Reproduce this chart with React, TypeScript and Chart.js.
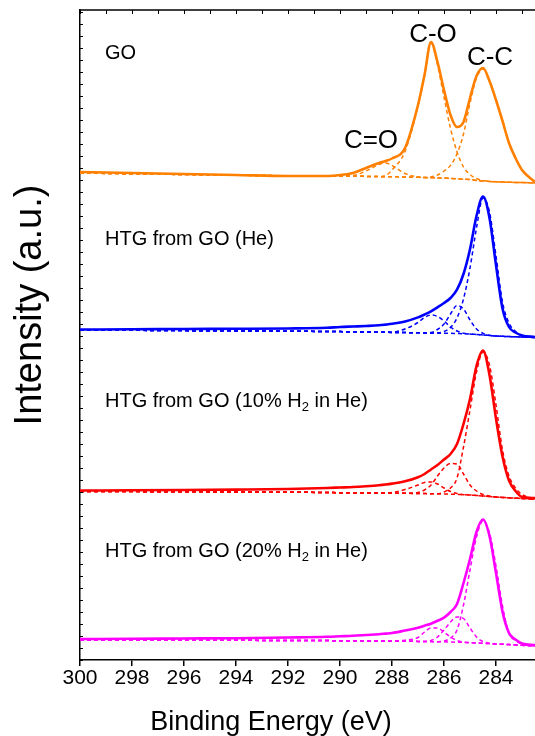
import { useEffect, useRef } from "react";
import { Chart, registerables } from "chart.js";

Chart.register(...registerables);

// Binding energy grid (eV)
const energy = [300, 298, 296, 294, 292, 290.5, 290, 289.5, 289, 288.5, 288.25, 288, 287.5, 287, 286.75, 286.5, 286.25, 286, 285.75, 285.5, 285.25, 285, 284.75, 284.5, 284.25, 284, 283.75, 283.5, 283.25, 283, 282.5];

// GO (offset spectra, arbitrary units)
const goEnvelope = [488, 487, 486, 485, 484, 484, 485, 487, 492, 497, 499, 501.5, 512, 555, 585, 618, 598, 570, 545, 533, 538, 562, 584, 592, 579, 560, 539, 517, 502, 490, 478];
const goBaseline = [487, 486.2, 485.5, 484.8, 484.2, 484, 484, 483.8, 483.6, 483.4, 483.3, 483.2, 483, 482.7, 482.5, 482.3, 482.1, 482, 481.6, 481.2, 480.8, 480.5, 479.5, 479, 478.6, 478.2, 478, 477.8, 477.6, 477.5, 477];
const goCdO = [487, 486.2, 485.5, 484.8, 484.2, 484, 484, 484.5, 489, 495.5, 497, 494.5, 486.5, 483, 482.5, 482.3, 482.1, 482, 481.6, 481.2, 480.8, 480.5, 479.5, 479, 478.6, 478.2, 478, 477.8, 477.6, 477.5, 477];
const goCO = [487, 486.2, 485.5, 484.8, 484.2, 484, 484, 483.8, 483.6, 483.4, 484.5, 490, 508.5, 554, 584, 617, 595, 563, 531.6, 508.2, 493, 485.5, 481.5, 479.5, 478.6, 478.2, 478, 477.8, 477.6, 477.5, 477];
const goCC = [487, 486.2, 485.5, 484.8, 484.2, 484, 484, 483.8, 483.6, 483.4, 483.3, 483.2, 483, 482.7, 482.5, 483, 485, 489, 494.6, 506.2, 526, 557, 582, 591, 578.5, 560, 539, 517, 502, 490, 477.5];

// HTG from GO (He)
const heEnvelope = [330.5, 330.7, 331, 331.2, 331.5, 332.2, 333, 333.5, 334, 334.7, 335.4, 336.2, 338.5, 342.6, 345.5, 348.7, 352.7, 357, 362, 370.3, 386, 410.7, 444, 463.5, 442, 395, 351.6, 333, 327.5, 324.5, 323];
const heBaseline = [330, 329.7, 329.4, 329.1, 328.8, 328.5, 328.4, 328.2, 328, 327.8, 327.7, 327.6, 327.4, 327.2, 327.1, 327, 326.9, 326.8, 326.7, 326.5, 326.3, 326, 325.5, 325, 324.5, 324, 323.7, 323.4, 323.2, 323, 322.5];
const heCompA = [330, 329.7, 329.4, 329.1, 328.8, 328.5, 328.4, 328.2, 328, 327.8, 327.7, 327.8, 331, 337.5, 342.5, 345, 343.5, 339, 333, 329, 326.8, 326, 325.5, 325, 324.5, 324, 323.7, 323.4, 323.2, 323, 322.5];
const heCompB = [330, 329.7, 329.4, 329.1, 328.8, 328.5, 328.4, 328.2, 328, 327.8, 327.7, 327.6, 327.4, 327.2, 327.1, 327.5, 330.5, 336, 346, 354.5, 351, 340, 331, 326.7, 324.7, 324, 323.7, 323.4, 323.2, 323, 322.5];
const heMain = [330, 329.7, 329.4, 329.1, 328.8, 328.5, 328.4, 328.2, 328, 327.8, 327.7, 327.6, 327.4, 327.2, 327.1, 327, 327.2, 328.5, 332.5, 342, 361, 392, 432, 462, 448, 404, 358, 337, 328.5, 324.5, 322.5];

// HTG from GO (10% H2 in He)
const h10Envelope = [169.5, 169.7, 170, 170.4, 171, 172, 172.5, 173, 173.8, 174.8, 175.5, 176.4, 178.7, 182.8, 186, 190.5, 195, 200.5, 206, 216, 236, 261, 294, 309.5, 285, 241.4, 203.5, 179.5, 169, 163, 162];
const h10Baseline = [168.5, 168.4, 168.2, 168, 167.8, 167.5, 167.3, 167.2, 167.1, 167, 166.9, 166.8, 166.7, 166.5, 166.4, 166.3, 166.2, 166, 165.8, 165.6, 165.3, 165, 164.5, 164, 163.5, 163, 162.6, 162.2, 161.8, 161.5, 160.7];
const h10CompA = [168.5, 168.4, 168.2, 168, 167.8, 167.5, 167.3, 167.2, 167.1, 167, 166.9, 167.5, 170.5, 175, 177.5, 178, 176, 172, 168.5, 166.5, 165.3, 165, 164.5, 164, 163.5, 163, 162.6, 162.2, 161.8, 161.5, 160.7];
const h10CompB = [168.5, 168.4, 168.2, 168, 167.8, 167.5, 167.3, 167.2, 167.1, 167, 166.9, 166.8, 166.7, 167.5, 170, 175, 184, 192, 196.5, 196, 186, 175, 169, 165.5, 164, 163, 162.6, 162.2, 161.8, 161.5, 160.7];
const h10Main = [168.5, 168.4, 168.2, 168, 167.8, 167.5, 167.3, 167.2, 167.1, 167, 166.9, 166.8, 166.7, 166.5, 166.4, 166.3, 166.2, 168, 172, 182, 213, 250, 288, 308, 295, 255, 210, 184, 172, 165.5, 161];

// HTG from GO (20% H2 in He)
const h20Envelope = [21, 21.2, 21.5, 21.8, 22.5, 23.2, 23.7, 24.2, 25, 25.8, 26.4, 27, 29.5, 32.3, 34.3, 36.3, 39.2, 42.3, 48, 56, 77, 101, 128, 140.5, 124, 87, 48.4, 27, 20.5, 16.6, 15];
const h20Baseline = [20, 19.9, 19.8, 19.7, 19.5, 19.4, 19.3, 19.2, 19.1, 19, 18.95, 18.9, 18.8, 18.6, 18.5, 18.4, 18.3, 18.2, 18, 17.8, 17.6, 17.3, 17, 16.7, 16.4, 16, 15.7, 15.4, 15, 14.7, 14];
const h20CompA = [20, 19.9, 19.8, 19.7, 19.5, 19.4, 19.3, 19.2, 19.1, 19, 18.95, 18.9, 19.8, 22.5, 28, 32, 32, 28, 23, 19.5, 18, 17.3, 17, 16.7, 16.4, 16, 15.7, 15.4, 15, 14.7, 14];
const h20CompB = [20, 19.9, 19.8, 19.7, 19.5, 19.4, 19.3, 19.2, 19.1, 19, 18.95, 18.9, 18.8, 18.6, 18.5, 19.5, 23, 30, 38, 43, 41.5, 32, 23, 18.5, 16.7, 16, 15.7, 15.4, 15, 14.7, 14];
const h20Main = [20, 19.9, 19.8, 19.7, 19.5, 19.4, 19.3, 19.2, 19.1, 19, 18.95, 18.9, 18.8, 18.6, 18.5, 18.4, 18.3, 19, 22, 30, 55, 90, 123, 139, 127, 94, 54, 26.5, 19.5, 16, 14];

const xTickValues = [300, 298, 296, 294, 292, 290, 288, 286, 284];
const topMinorTicks = [300, 299, 298, 297, 296, 295, 294, 293, 292, 291, 290, 289, 288, 287, 286, 285, 284, 283];

const ORANGE = "#FF8000";
const BLUE = "#0000FF";
const RED = "#FF0000";
const MAGENTA = "#FF00FF";
const FONT = "'Liberation Sans', Arial, Helvetica, sans-serif";

const spectra = [
  { color: ORANGE, envelope: goEnvelope, comps: [goBaseline, goCdO, goCO, goCC] },
  { color: BLUE, envelope: heEnvelope, comps: [heBaseline, heCompA, heCompB, heMain] },
  { color: RED, envelope: h10Envelope, comps: [h10Baseline, h10CompA, h10CompB, h10Main] },
  { color: MAGENTA, envelope: h20Envelope, comps: [h20Baseline, h20CompA, h20CompB, h20Main] },
];

const toPoints = (arr: number[]) => energy.map((e, i) => ({ x: e, y: arr[i] }));

const decor = {
  id: "decor",
  afterDraw(chart: any) {
    const { ctx, chartArea: a, scales } = chart;
    const xs = scales.x;
    const ys = scales.y;
    ctx.save();
    ctx.strokeStyle = "#000";
    // top border
    ctx.lineWidth = 1.5;
    ctx.beginPath();
    ctx.moveTo(a.left, a.top);
    ctx.lineTo(a.right, a.top);
    ctx.stroke();
    // top minor ticks
    ctx.lineWidth = 1;
    ctx.beginPath();
    for (const e of topMinorTicks) {
      const px = Math.round(xs.getPixelForValue(e)) + 0.5;
      ctx.moveTo(px, a.top);
      ctx.lineTo(px, a.top + 4);
    }
    // left minor ticks
    for (let v = 0; v <= 650; v += 12) {
      const py = Math.round(ys.getPixelForValue(v)) + 0.5;
      ctx.moveTo(a.left, py);
      ctx.lineTo(a.left + 3, py);
    }
    ctx.stroke();

    ctx.fillStyle = "#000";
    ctx.textBaseline = "alphabetic";
    // axis titles
    ctx.font = `27px ${FONT}`;
    ctx.textAlign = "center";
    ctx.fillText("Binding Energy (eV)", 271, 730);
    ctx.save();
    ctx.translate(41, 305);
    ctx.rotate(-Math.PI / 2);
    ctx.font = `38px ${FONT}`;
    ctx.fillText("Intensity (a.u.)", 0, 0);
    ctx.restore();

    // peak labels
    ctx.font = `26px ${FONT}`;
    ctx.fillText("C=O", 371, 148);
    ctx.fillText("C-O", 433, 42);
    ctx.fillText("C-C", 490, 65);

    // sample labels
    ctx.textAlign = "left";
    const label = (pre: string, sub: string, post: string, x: number, y: number) => {
      ctx.font = `20px ${FONT}`;
      ctx.fillText(pre, x, y);
      let cx = x + ctx.measureText(pre).width;
      if (sub) {
        ctx.font = `13px ${FONT}`;
        ctx.fillText(sub, cx, y + 4);
        cx += ctx.measureText(sub).width;
        ctx.font = `20px ${FONT}`;
        ctx.fillText(post, cx, y);
      }
    };
    label("GO", "", "", 105, 59);
    label("HTG from GO (He)", "", "", 105, 245);
    label("HTG from GO (10% H", "2", " in He)", 105, 407);
    label("HTG from GO (20% H", "2", " in He)", 105, 557);
    ctx.restore();
  },
};

export default function App() {
  const ref = useRef<HTMLCanvasElement | null>(null);
  useEffect(() => {
    if (!ref.current) return;
    const datasets: any[] = [];
    for (const s of spectra) {
      for (const c of s.comps) {
        datasets.push({
          data: toPoints(c),
          borderColor: s.color,
          borderWidth: 1.5,
          borderDash: [4, 3],
          pointRadius: 0,
          fill: false,
          cubicInterpolationMode: "monotone",
        });
      }
    }
    for (const s of spectra) {
      datasets.push({
        data: toPoints(s.envelope),
        borderColor: s.color,
        borderWidth: 2.6,
        pointRadius: 0,
        fill: false,
        cubicInterpolationMode: "monotone",
      });
    }
    const chart = new Chart(ref.current, {
      type: "line",
      data: { datasets },
      options: {
        responsive: false,
        maintainAspectRatio: false,
        devicePixelRatio: 1,
        animation: false,
        events: [],
        layout: { padding: { top: 10, right: 0, left: 0, bottom: 0 } },
        plugins: { legend: { display: false }, tooltip: { enabled: false }, title: { display: false } },
        scales: {
          x: {
            type: "linear",
            reverse: true,
            min: 282.5,
            max: 300,
            afterBuildTicks: (scale: any) => {
              scale.ticks = xTickValues.map((v) => ({ value: v }));
            },
            afterFit: (scale: any) => {
              scale.height = 76;
            },
            grid: { display: true, drawOnChartArea: false, drawTicks: true, tickLength: 6, tickColor: "#000", lineWidth: 1.5 },
            border: { display: true, color: "#000", width: 1.5 },
            ticks: {
              color: "#000",
              font: { family: FONT, size: 21 },
              padding: 0,
              maxRotation: 0,
              autoSkip: false,
              callback: (v: any) => String(v),
            },
          },
          y: {
            type: "linear",
            min: 0,
            max: 650,
            afterFit: (scale: any) => {
              scale.width = 80;
            },
            grid: { display: false },
            border: { display: true, color: "#000", width: 1.5 },
            ticks: { display: false },
          },
        },
      },
      plugins: [decor],
    } as any);
    return () => chart.destroy();
  }, []);
  return (
    <div style={{ position: "fixed", left: 0, top: 0, width: 535, height: 736, background: "#fff" }}>
      <canvas ref={ref} width={535} height={736} style={{ width: 535, height: 736, display: "block" }} />
    </div>
  );
}
